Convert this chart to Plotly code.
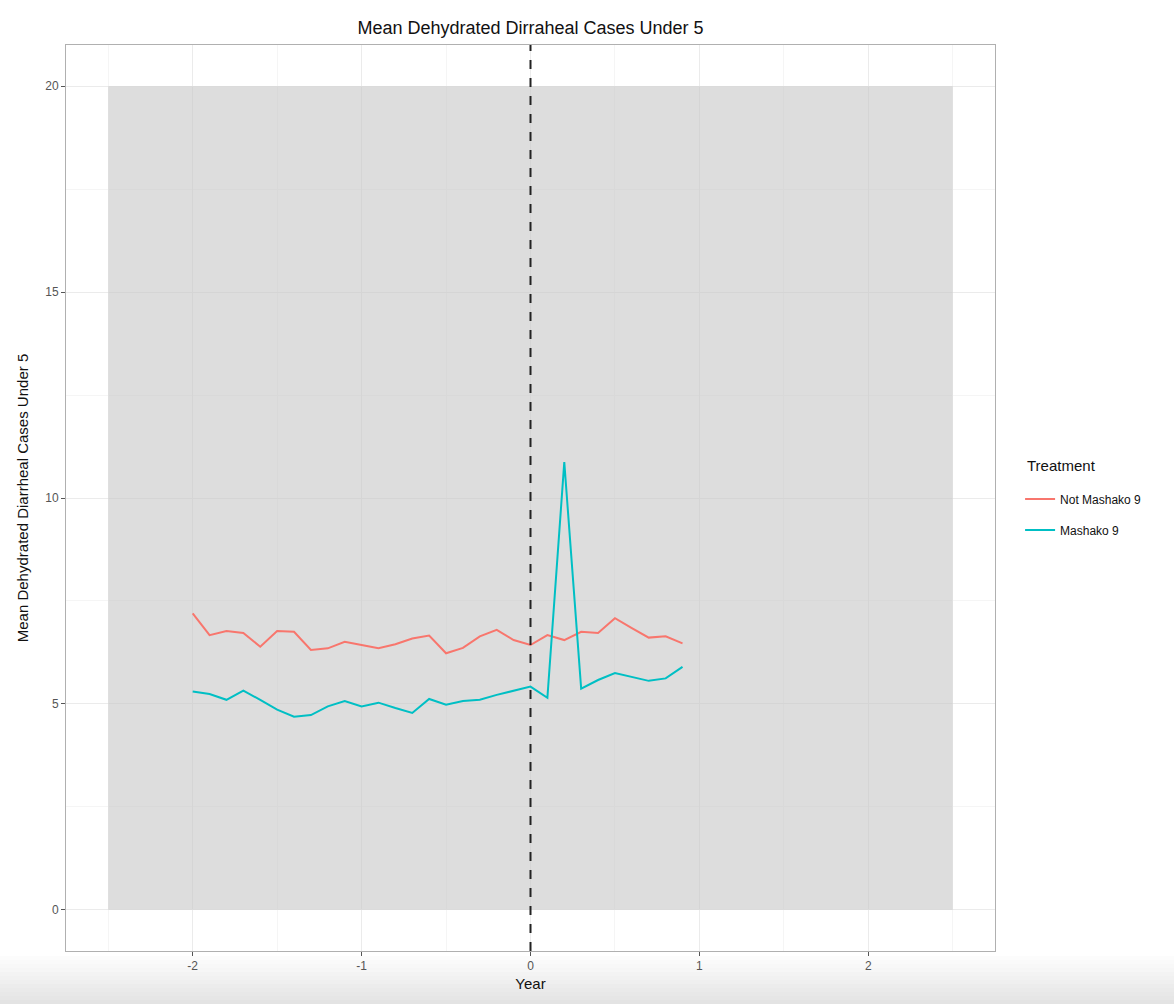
import plotly.graph_objects as go

# Years relative to the intervention (tenths of a year)
years = [-2.0, -1.9, -1.8, -1.7, -1.6, -1.5, -1.4, -1.3, -1.2, -1.1,
         -1.0, -0.9, -0.8, -0.7, -0.6, -0.5, -0.4, -0.3, -0.2, -0.1,
         0.0, 0.1, 0.2, 0.3, 0.4, 0.5, 0.6, 0.7, 0.8, 0.9]

not_mashako = [7.20, 6.67, 6.77, 6.72, 6.39, 6.77, 6.75, 6.31, 6.35, 6.51,
               6.43, 6.35, 6.45, 6.59, 6.66, 6.23, 6.36, 6.64, 6.80, 6.55,
               6.43, 6.67, 6.55, 6.75, 6.72, 7.08, 6.84, 6.61, 6.64, 6.47]

mashako = [5.30, 5.24, 5.10, 5.32, 5.10, 4.86, 4.69, 4.73, 4.94, 5.07,
           4.94, 5.03, 4.90, 4.78, 5.12, 4.98, 5.07, 5.10, 5.22, 5.32,
           5.42, 5.15, 10.87, 5.37, 5.58, 5.75, 5.66, 5.56, 5.62, 5.90]

series_names = ["Not Mashako 9", "Mashako 9"]
series_colors = ["#F8766D", "#00BFC4"]

# Shaded study window
window_x = [-2.5, 2.5]
window_y = [0, 20]

x_ticks = [-2, -1, 0, 1, 2]
x_tick_text = ["-2", "-1", "0", "1", "2"]
y_ticks = [0, 5, 10, 15, 20]

FONT = "Liberation Sans, Arial, Helvetica, sans-serif"

fig = go.Figure()

# translucent window drawn over the grid, under the lines
fig.add_trace(go.Scatter(
    x=[window_x[0], window_x[1], window_x[1], window_x[0], window_x[0]],
    y=[window_y[0], window_y[0], window_y[1], window_y[1], window_y[0]],
    mode="lines", fill="toself", fillcolor="rgba(200,200,200,0.62)",
    line=dict(width=0), hoverinfo="skip", showlegend=False))

for name, vals, col in zip(series_names, [not_mashako, mashako], series_colors):
    fig.add_trace(go.Scatter(x=years, y=vals, mode="lines", name=name,
                             legendgroup=name,
                             line=dict(color=col, width=2)))

shapes = [
    dict(type="line", xref="x", yref="paper", x0=0, x1=0, y0=0, y1=1,
         line=dict(color="#222222", width=2, dash="dash"), layer="above"),
]

# soft grey fade along the bottom edge of the page
n_steps = 12
for i in range(n_steps):
    p0 = 956 + i * 4
    p1 = p0 + 4
    shapes.append(dict(type="rect", xref="paper", yref="paper",
                       x0=-0.08, x1=1.2,
                       y0=(951 - p1) / 906, y1=(951 - p0) / 906,
                       fillcolor="rgba(200,200,200,%.3f)" % (0.05 + 0.45 * i / (n_steps - 1)),
                       line=dict(width=0), layer="below"))

axis_common = dict(
    showgrid=True, gridcolor="#ebebeb", gridwidth=1,
    zeroline=False, showline=True, mirror=True,
    linecolor="#b0b0b0", linewidth=1,
    ticks="outside", ticklen=4, tickcolor="#555555",
    tickfont=dict(family=FONT, size=12, color="#555555"),
    title_font=dict(family=FONT, size=15, color="#111111"),
)

fig.update_layout(
    width=1174, height=1004,
    margin=dict(l=66, r=179, t=45, b=53),
    paper_bgcolor="white", plot_bgcolor="white",
    title=dict(text="Mean Dehydrated Dirraheal Cases Under 5",
               x=(66 + 995) / 2 / 1174, xanchor="center", y=1 - 28 / 1004, yanchor="middle",
               font=dict(family=FONT, size=18, color="#111111")),
    xaxis=dict(range=[-2.75, 2.75], tickvals=x_ticks, ticktext=x_tick_text,
               minor=dict(dtick=0.5, tick0=0.5, showgrid=True, gridcolor="#f5f5f5"),
               title=dict(text="Year", standoff=6), **axis_common),
    yaxis=dict(range=[-1, 21], tickvals=y_ticks,
               minor=dict(dtick=2.5, tick0=2.5, showgrid=True, gridcolor="#f5f5f5"),
               title=dict(text="Mean Dehydrated Diarrheal Cases Under 5", standoff=12),
               **axis_common),
    shapes=shapes,
    annotations=[dict(text="Treatment", xref="paper", yref="paper",
                      x=1.032, y=(951 - 465) / 906, xanchor="left", yanchor="middle",
                      showarrow=False,
                      font=dict(family=FONT, size=15, color="#111111"))],
    legend=dict(x=1.027, xanchor="left", y=0.515, yanchor="top",
                font=dict(family=FONT, size=12, color="#111111"),
                itemwidth=30, tracegroupgap=12, bgcolor="rgba(0,0,0,0)"),
    showlegend=True,
)

fig.write_html("out.html")
